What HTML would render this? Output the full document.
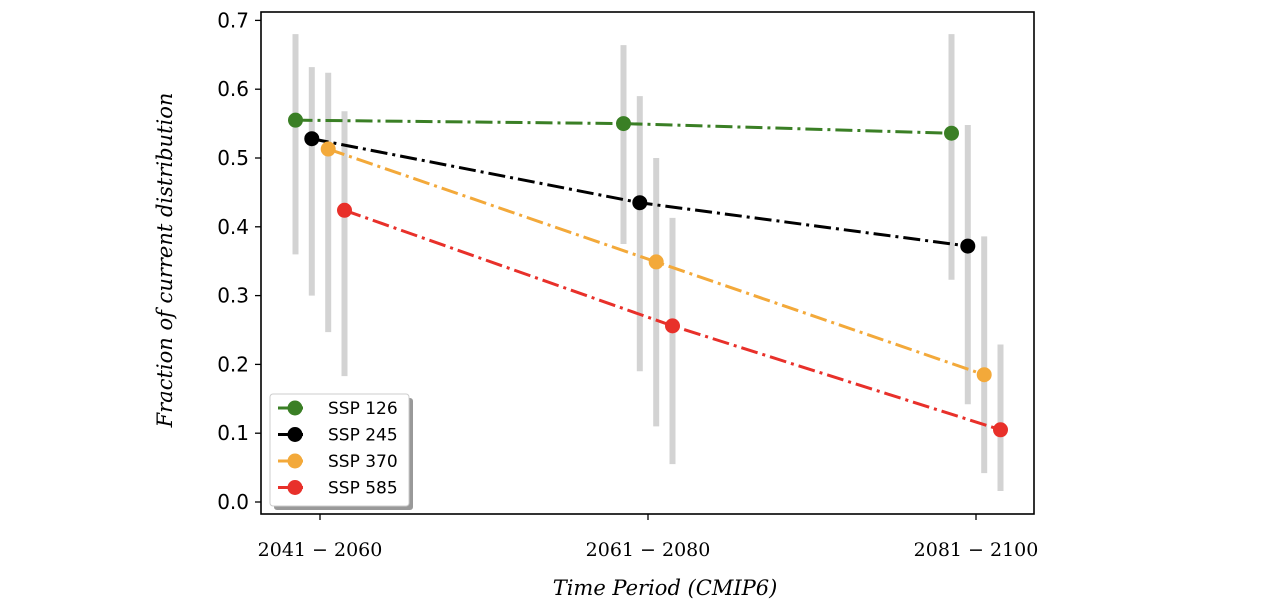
<!DOCTYPE html>
<html><head><meta charset="utf-8"><style>
body{margin:0;background:#fff;}
svg text{font-family:"DejaVu Sans","Liberation Sans",sans-serif;}
.serif{font-family:"DejaVu Serif","Liberation Serif",serif;}
</style></head><body>
<svg id="chart" width="1272" height="610" xmlns="http://www.w3.org/2000/svg"></svg>
<script>
const categories=["2041 \u2212 2060","2061 \u2212 2080","2081 \u2212 2100"];
const seriesNames=["SSP 126","SSP 245","SSP 370","SSP 585"];
const seriesColors=["#3a7f25","#000000","#f3a93a","#e8302a"];
const ssp126=[0.555,0.550,0.536];
const ssp245=[0.528,0.435,0.372];
const ssp370=[0.513,0.349,0.185];
const ssp585=[0.424,0.256,0.105];
const low126=[0.36,0.375,0.323], high126=[0.68,0.664,0.68];
const low245=[0.30,0.19,0.142], high245=[0.632,0.59,0.548];
const low370=[0.247,0.11,0.042], high370=[0.624,0.50,0.386];
const low585=[0.183,0.055,0.016], high585=[0.568,0.413,0.229];
const yTicks=[0.0,0.1,0.2,0.3,0.4,0.5,0.6,0.7];

const NS="http://www.w3.org/2000/svg";
const svg=document.getElementById('chart');
const L=261,R=1034,T=12,B=514;
function y(v){return 502-688*v;}
function xc(i){return 320+328*i;}
const offsets=[-24.5,-8.2,8.2,24.5];
function mk(tag,attrs,parent){const e=document.createElementNS(NS,tag);for(const k in attrs)e.setAttribute(k,attrs[k]);(parent||svg).appendChild(e);return e;}
const vals=[ssp126,ssp245,ssp370,ssp585],lows=[low126,low245,low370,low585],highs=[high126,high245,high370,high585];

for(let s=0;s<4;s++)for(let i=0;i<3;i++){
 const e=mk('line',{x1:xc(i)+offsets[s],x2:xc(i)+offsets[s],y1:y(lows[s][i]),y2:y(highs[s][i]),stroke:'#d3d3d3','stroke-width':6});
 
 
}
for(let s=0;s<4;s++){
 const pts=vals[s].map((v,i)=>(xc(i)+offsets[s])+','+y(v)).join(' ');
 const pl=mk('polyline',{points:pts,fill:'none',stroke:seriesColors[s],'stroke-width':3,'stroke-dasharray':'17,5,3,5'});
 
 
 for(let i=0;i<3;i++){
  const c=mk('circle',{cx:xc(i)+offsets[s],cy:y(vals[s][i]),r:7.5,fill:seriesColors[s]});
  
  
 }
}
const fr=mk('rect',{x:L,y:T,width:R-L,height:B-T,fill:'none',stroke:'#000','stroke-width':1.6});


yTicks.forEach(v=>{
 mk('line',{x1:L-6,x2:L,y1:y(v),y2:y(v),stroke:'#000','stroke-width':1.3});
 const t=mk('text',{x:L-12,y:y(v)+7,'text-anchor':'end','font-size':20,fill:'#000'});
 t.textContent=v.toFixed(1);
 
 
});
categories.forEach((c,i)=>{
 mk('line',{x1:xc(i),x2:xc(i),y1:B,y2:B+6,stroke:'#000','stroke-width':1.3});
 const t=mk('text',{x:xc(i),y:556,'text-anchor':'middle','font-size':19,fill:'#000',class:'serif'});
 t.textContent=c;
 
 
});
const xt=mk('text',{x:665,y:595,'text-anchor':'middle','font-size':21,'font-style':'italic',class:'serif'});
xt.textContent='Time Period (CMIP6)';


const yt=mk('text',{x:0,y:0,'text-anchor':'middle','font-size':21,'font-style':'italic',class:'serif',transform:'translate(172,260) rotate(-90)'});
yt.textContent='Fraction of current distribution';


const lg=mk('g',{});


mk('rect',{x:274,y:398,width:139,height:112,rx:3,fill:'#999'},lg);
mk('rect',{x:270,y:394,width:139,height:112,rx:3,fill:'#fff',stroke:'#ccc','stroke-width':1},lg);
seriesNames.forEach((n,s)=>{
 const yy=408+26.5*s;
 const g=mk('g',{},lg);
 
 
 mk('line',{x1:278,x2:308,y1:yy,y2:yy,stroke:seriesColors[s],'stroke-width':3,'stroke-dasharray':'17,5,3,5'},g);
 mk('circle',{cx:295,cy:yy,r:7.5,fill:seriesColors[s]},g);
 const t=mk('text',{x:328,y:yy+6,'font-size':17,fill:'#000'},g);
 t.textContent=n;
});
</script>
</body></html>
